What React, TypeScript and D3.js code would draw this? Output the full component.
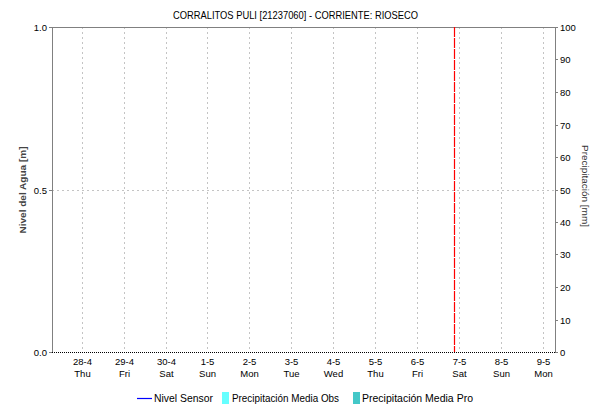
import React from "react";
import * as d3 from "d3";

const title = "CORRALITOS PULI [21237060] - CORRIENTE: RIOSECO";
const domainStart = "2022-04-27T07:00:00";
const domainEnd = "2022-05-09T07:00:00";
const dayTicks = [
  "2022-04-28", "2022-04-29", "2022-04-30", "2022-05-01", "2022-05-02", "2022-05-03",
  "2022-05-04", "2022-05-05", "2022-05-06", "2022-05-07", "2022-05-08", "2022-05-09",
];
const weekdays = ["Sun", "Mon", "Tue", "Wed", "Thu", "Fri", "Sat"];
const markerTime = "2022-05-06T21:20:00";
const levelTicks = [0, 0.5, 1.0];
const precipTicks = [0, 10, 20, 30, 40, 50, 60, 70, 80, 90, 100];
const legendItems = [
  { label: "Nivel Sensor", kind: "line", color: "#0000ff" },
  { label: "Precipitación Media Obs", kind: "box", color: "#66ffff" },
  { label: "Precipitación Media Pro", kind: "box", color: "#44c8c8" },
];

const W = 590, H = 404;
const M = { left: 52, right: 555, top: 27, bottom: 352 };
const FONT = "'Liberation Sans', Arial, sans-serif";

export default function App() {
  const parse = (s: string) => new Date(s);
  const x = d3.scaleTime().domain([parse(domainStart), parse(domainEnd)]).range([M.left, M.right]);
  const yL = d3.scaleLinear().domain([0, 1]).range([M.bottom, M.top]);
  const yR = d3.scaleLinear().domain([0, 100]).range([M.bottom, M.top]);
  const axisColor = "#808080";
  const gridColor = "#c4c4c4";
  const mx = x(parse(markerTime));
  const legendX = [137, 222, 353];
  const legendTextX = [154, 232, 362];
  const legendTextW = [59, 107, 111];

  return (
    <svg width={W} height={H} style={{ position: "absolute", left: 0, top: 0 }} fontFamily={FONT}>
      <rect width={W} height={H} fill="#fff" />
      <text x={173} y={19} fontSize={11.5} fill="#000" textLength={245} lengthAdjust="spacingAndGlyphs">{title}</text>
      {/* vertical grid */}
      {dayTicks.map((d) => {
        const t = parse(d + "T00:00:00");
        const px = Math.round(x(t)) + 0.5;
        const lab = `${t.getDate()}-${t.getMonth() + 1}`;
        return (
          <g key={d}>
            <line x1={px} x2={px} y1={M.top} y2={M.bottom} stroke={gridColor} strokeDasharray="2,3" />
            <text x={px} y={365} textAnchor="middle" fontSize={9.5} fill="#000">{lab}</text>
            <text x={px} y={377} textAnchor="middle" fontSize={9.5} fill="#000">{weekdays[t.getDay()]}</text>
          </g>
        );
      })}
      {/* horizontal grid at 0.5 */}
      {levelTicks.filter((v) => v > 0 && v < 1).map((v) => (
        <line key={v} x1={M.left} x2={M.right} y1={Math.round(yL(v)) + 0.5} y2={Math.round(yL(v)) + 0.5} stroke={gridColor} strokeDasharray="2,3" />
      ))}
      {/* frame */}
      <line x1={M.left + 0.5} x2={M.left + 0.5} y1={M.top} y2={M.bottom} stroke={axisColor} />
      <line x1={M.right + 0.5} x2={M.right + 0.5} y1={M.top} y2={M.bottom} stroke={axisColor} />
      <line x1={M.left} x2={M.right} y1={M.top + 0.5} y2={M.top + 0.5} stroke={axisColor} />
      {/* baseline dotted */}
      <line x1={M.left} x2={M.right + 1} y1={M.bottom + 0.5} y2={M.bottom + 0.5} stroke="#000" strokeDasharray="1,1" />
      {/* left ticks */}
      {levelTicks.map((v) => {
        const py = Math.round(yL(v)) + 0.5;
        return (
          <g key={v}>
            <line x1={M.left - 3} x2={M.left} y1={py} y2={py} stroke={axisColor} />
            <text x={M.left - 5} y={py + 3.5} textAnchor="end" fontSize={9.5} fill="#000">{v.toFixed(1)}</text>
          </g>
        );
      })}
      {/* right ticks */}
      {precipTicks.map((v) => {
        const py = Math.round(yR(v)) + 0.5;
        return (
          <g key={v}>
            <line x1={M.right} x2={M.right + 3} y1={py} y2={py} stroke={axisColor} />
            <text x={M.right + 5} y={py + 3.5} textAnchor="start" fontSize={9.5} fill="#000">{v}</text>
          </g>
        );
      })}
      {/* marker */}
      <line x1={Math.round(mx) + 0.5} x2={Math.round(mx) + 0.5} y1={M.top} y2={M.bottom} stroke="#ff0000" strokeWidth={1.2} strokeDasharray="10,1" />
      {/* axis titles */}
      <text transform={`translate(26,190) rotate(-90)`} textAnchor="middle" fontSize={9.5} fontWeight="bold" fill="#444" textLength={87} lengthAdjust="spacingAndGlyphs">Nivel del Agua [m]</text>
      <text transform={`translate(582,186) rotate(90)`} textAnchor="middle" fontSize={9.5} fill="#333" textLength={82} lengthAdjust="spacingAndGlyphs">Precipitación [mm]</text>
      {/* legend */}
      {legendItems.map((it, i) => (
        <g key={it.label}>
          {it.kind === "line" ? (
            <line x1={legendX[i]} x2={legendX[i] + 15} y1={398.5} y2={398.5} stroke={it.color} strokeWidth={1.2} />
          ) : (
            <rect x={legendX[i]} y={392} width={7} height={12} fill={it.color} />
          )}
          <text x={legendTextX[i]} y={402} fontSize={11} fill="#000" textLength={legendTextW[i]} lengthAdjust="spacingAndGlyphs">{it.label}</text>
        </g>
      ))}
    </svg>
  );
}
